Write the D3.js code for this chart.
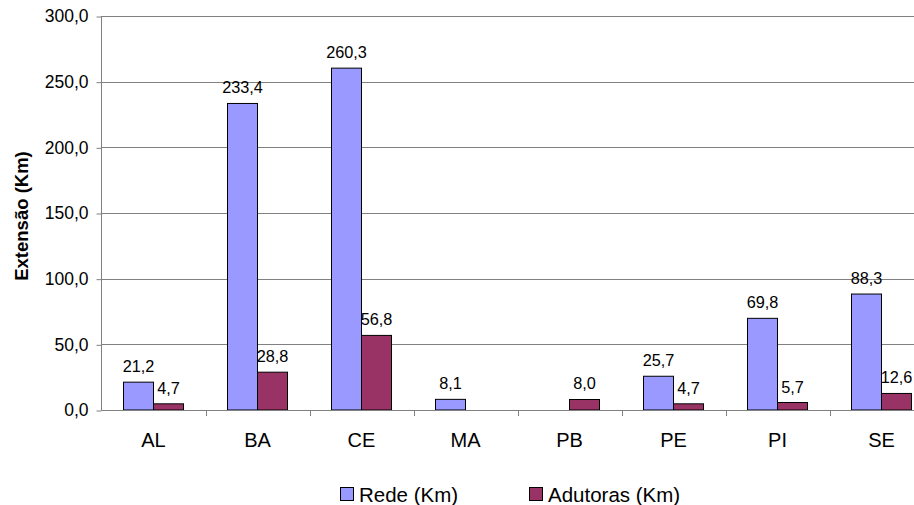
<!DOCTYPE html>
<html><head><meta charset="utf-8">
<script src="https://cdn.jsdelivr.net/npm/d3@7"></script>
<style>body{margin:0;background:#fff}svg{display:block;font-family:"Liberation Sans",Arial,sans-serif}</style>
</head><body>
<script>
const categories = ["AL","BA","CE","MA","PB","PE","PI","SE"];
const rede = [21.2,233.4,260.3,8.1,null,25.7,69.8,88.3];
const adutoras = [4.7,28.8,56.8,null,8.0,4.7,5.7,12.6];
const seriesNames = ["Rede (Km)","Adutoras (Km)"];
const colors = ["#9999FF","#993366"];
const yTicks = [0,50,100,150,200,250,300];

(function(){
const W=914,H=505;
const FF="Liberation Sans, Arial, sans-serif";
const svg=d3.select("body").append("svg").attr("width",W).attr("height",H);
const pL=101.5, pR=933.5, pT=16, pB=410;
const x=d3.scaleBand().domain(categories).range([pL,pR]);
const y=d3.scaleLinear().domain([0,300]).range([pB,pT]);
const fmt=v=>d3.format(".1f")(v).replace(".",",");

// gridlines
svg.append("g").selectAll("line").data(yTicks.slice(1)).join("line")
  .attr("x1",pL).attr("x2",pR).attr("y1",d=>Math.round(y(d))+0.5).attr("y2",d=>Math.round(y(d))+0.5)
  .attr("stroke","#808080").attr("stroke-width",1);

// y axis
const ya=svg.append("g").attr("transform",`translate(${pL},0)`)
  .call(d3.axisLeft(y).tickValues(yTicks).tickSize(5).tickPadding(8).tickFormat(fmt));
ya.select(".domain").remove();
ya.selectAll(".tick line").attr("stroke","#808080").attr("transform","translate(0,0.5)");
ya.selectAll("text").attr("font-size",17.5).attr("fill","#000").attr("font-family",FF).attr("dy","0.34em");
svg.append("line").attr("x1",pL).attr("x2",pL).attr("y1",pT).attr("y2",pB+0.5).attr("stroke","#808080");

// bars
const bw=30;
const series=[rede,adutoras];
series.forEach((vals,si)=>{
  const g=svg.append("g");
  const data=categories.map((c,i)=>({c,v:vals[i]})).filter(d=>d.v!=null);
  g.selectAll("rect").data(data).join("rect")
    .attr("x",d=>x(d.c)+x.bandwidth()/2-bw+si*bw)
    .attr("y",d=>y(d.v)).attr("width",bw).attr("height",d=>y(0)-y(d.v))
    .attr("fill",colors[si]).attr("stroke","#000").attr("stroke-width",1);
  g.selectAll("text").data(data).join("text")
    .attr("x",d=>x(d.c)+x.bandwidth()/2-bw/2+si*bw)
    .attr("y",d=>y(d.v)-10).attr("text-anchor","middle").attr("font-size",16.3).attr("fill","#000")
    .text(d=>fmt(d.v));
});

// x axis
svg.append("line").attr("x1",pL).attr("x2",pR).attr("y1",pB+0.5).attr("y2",pB+0.5).attr("stroke","#808080");
const xa=svg.append("g").attr("transform",`translate(0,${pB})`)
  .call(d3.axisBottom(x).tickSize(0).tickPadding(0));
xa.select(".domain").remove();
xa.selectAll("text").attr("font-size",20).attr("fill","#000").attr("font-family",FF).attr("dy",null).attr("y",37);
svg.append("g").selectAll("line").data(categories.slice(1)).join("line")
  .attr("x1",d=>Math.round(x(d))+0.5).attr("x2",d=>Math.round(x(d))+0.5)
  .attr("y1",pB).attr("y2",pB+6).attr("stroke","#808080");

// y title
svg.append("text").attr("transform",`translate(28,${(pT+pB)/2+3}) rotate(-90)`)
  .attr("text-anchor","middle").attr("font-size",18.5).attr("font-weight","bold").text("Extensão (Km)");

// legend
const lx=[340,529];
seriesNames.forEach((n,i)=>{
  svg.append("rect").attr("x",lx[i]+0.5).attr("y",487.5).attr("width",13).attr("height",13)
    .attr("fill",colors[i]).attr("stroke","#000");
  svg.append("text").attr("x",lx[i]+19).attr("y",501.5).attr("font-size",20.5).text(n);
});
})();
</script>
</body></html>
